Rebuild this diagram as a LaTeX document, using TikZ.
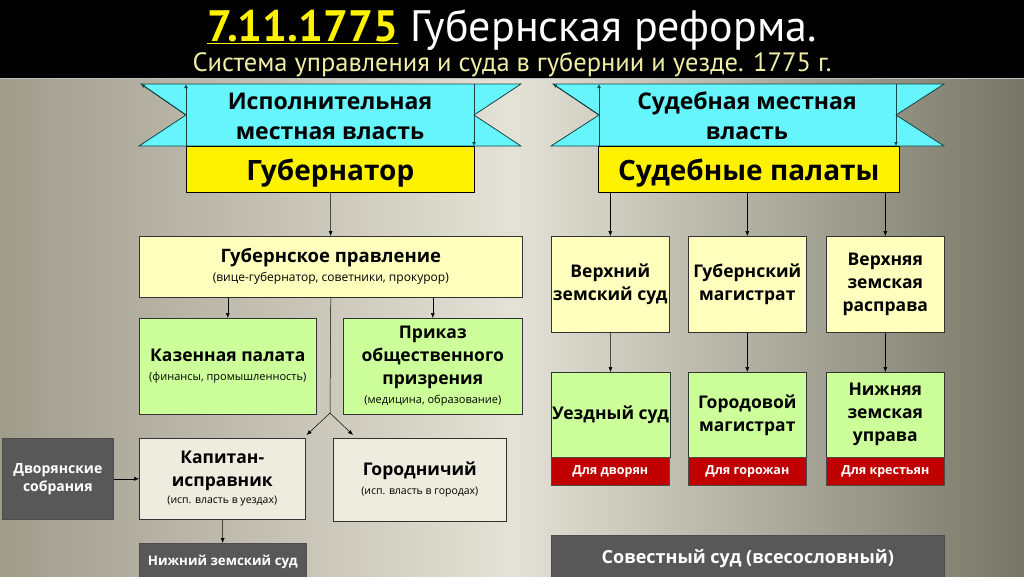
\documentclass[tikz,border=0pt]{standalone}
\usepackage{fontspec}
\setmainfont{Open Sans}
\newfontfamily\titlefont{PT Sans}
\usetikzlibrary{arrows.meta,calc}
\definecolor{lyel}{RGB}{255,255,190}
\definecolor{lgrn}{RGB}{204,255,153}
\definecolor{tan}{RGB}{238,236,222}
\definecolor{dgray}{RGB}{88,88,88}
\definecolor{dred}{RGB}{192,0,0}
\definecolor{rcyan}{RGB}{102,245,252}
\definecolor{rline}{RGB}{20,70,70}
\definecolor{subyel}{RGB}{240,238,165}
\definecolor{bgl}{RGB}{160,156,140}
\definecolor{bgm}{RGB}{228,226,214}
\definecolor{bgr}{RGB}{118,118,102}
\tikzset{
  box/.style={draw=black!80, line width=0.6pt, inner sep=1pt, align=center, anchor=north west, text=black},
  ybox/.style={box, fill=lyel},
  gbox/.style={box, fill=lgrn},
  tbox/.style={box, fill=tan},
  dbox/.style={box, fill=dgray, text=white, draw=black!70},
  rbox/.style={box, fill=dred, text=white, draw=black!70, font=\fontsize{12.5}{14}\selectfont\bfseries},
  big/.style={font=\fontsize{17.5}{23}\selectfont\bfseries},
  arr/.style={-{Latex[length=5pt,width=4pt]}, line width=0.5pt, black},
  rib/.style={fill=rcyan, draw=rline, line width=0.8pt},
  ribarr/.style={draw=rline, line width=0.8pt, -{Latex[length=4pt,width=4pt]}},
  ribtext/.style={align=center, font=\fontsize{23}{30}\selectfont\bfseries, text=black},
  headbox/.style={box, fill=yellow, draw=black, font=\fontsize{28}{32}\selectfont\bfseries}
}
\newcommand{\subt}[2][11]{{\fontsize{#1}{14}\selectfont\mdseries #2}}
\newcommand{\lowr}[1]{\raisebox{-4pt}[\height][\depth]{#1}}
\begin{document}
\begin{tikzpicture}[x=1pt,y=-1pt]
\useasboundingbox (0,0) rectangle (1024,576);
% background
\shade[left color=bgl, right color=bgr, middle color=bgm] (0,78) rectangle (1024,576);
\fill[black] (0,0) rectangle (1024,78);
\draw[white!75!black, line width=1pt] (0,78.5) -- (1024,78.5);
% header
\node[font=\titlefont\fontsize{44}{48}\selectfont, text=white] (title) at (512,30)
  {{\color{yellow}\bfseries\underline{7.11.1775}} Губернская реформа.};
\node[font=\titlefont\fontsize{26.5}{30}\selectfont, text=subyel] (subtitle) at (512,65)
  {Система управления и суда в губернии и уезде. 1775 г.};
% left ribbon
\path[rib] (141,84) -- (521,84) -- (474,115) -- (521,146) -- (139,146) -- (186,115) -- cycle;
\draw[ribarr] (186,146) -- (186,84);
\draw[ribarr] (474,84) -- (474,146);
\draw[ribarr] (186,115) -- (141,84);
\node[ribtext] (exec) at (330,116) {Исполнительная\\местная власть};
% right ribbon
\path[rib] (553,84) -- (944,84) -- (896,115) -- (944,146) -- (551,146) -- (599,115) -- cycle;
\draw[ribarr] (599,146) -- (599,84);
\draw[ribarr] (896,84) -- (896,146);
\draw[ribarr] (599,115) -- (553,84);
\node[ribtext] (jud) at (747,116) {Судебная местная\\власть};
% head boxes
\node[headbox, minimum width=288pt, minimum height=46pt] (gub) at (186,146) {\lowr{Губернатор}};
\node[headbox, minimum width=301pt, minimum height=46pt] (sp) at (598,146) {\lowr{Судебные палаты}};
% left side
\node[ybox, font=\fontsize{18.5}{23}\selectfont\bfseries, minimum width=383pt, minimum height=61pt] (gp) at (139,236)
  {Губернское правление\\[-4pt]\subt[12]{(вице-губернатор, советники, прокурор)}};
\node[gbox, big, minimum width=177pt, minimum height=96pt] (kaz) at (139,318)
  {Казенная палата\\[-4pt]\subt[11]{(финансы, промышленность)}};
\node[gbox, big, minimum width=179pt, minimum height=96pt] (prik) at (343,318)
  {Приказ\\общественного\\призрения\\[-4pt]\subt[11]{(медицина, образование)}};
\node[dbox, font=\fontsize{14}{18}\selectfont\bfseries, minimum width=111pt, minimum height=81pt] (dvor) at (2,438)
  {Дворянские\\собрания};
\node[tbox, big, minimum width=166pt, minimum height=81pt] (kap) at (139,438)
  {Капитан-\\исправник\\[-6pt]\subt[10.5]{(исп. власть в уездах)}};
\node[tbox, big, minimum width=173pt, minimum height=83pt] (gor) at (333,438)
  {Городничий\\[-4pt]\subt[10.5]{(исп. власть в городах)}};
\node[dbox, font=\fontsize{13.3}{18}\selectfont\bfseries, minimum width=167pt, minimum height=37pt] (nzs) at (139,543)
  {Нижний земский суд};
% left connectors
\draw[arr] (gub) -- (gp);
\draw[arr] (gp.south -| kaz.north) -- (kaz.north);
\draw[arr] (gp.south -| prik.north) -- (prik.north);
\coordinate (j) at (330,413);
\draw[line width=0.5pt] (gp.south) -- (j);
\draw[arr] (j) -- ([xshift=1pt,yshift=3pt]kap.north east);
\draw[arr] (j) -- ([xshift=20pt,yshift=3pt]gor.north west);
\draw[arr] (dvor) -- (kap);
\draw[arr] (kap) -- (nzs);
% right side
\node[ybox, big, minimum width=118pt, minimum height=96pt] (vz) at (551,236) {Верхний\\земский суд};
\node[ybox, big, minimum width=118pt, minimum height=96pt] (gm) at (688,236) {Губернский\\магистрат};
\node[ybox, big, minimum width=118pt, minimum height=96pt] (vr) at (826,236) {Верхняя\\земская\\расправа};
\node[gbox, big, minimum width=118pt, minimum height=85pt] (uz) at (551,372) {Уездный суд};
\node[gbox, big, minimum width=118pt, minimum height=85pt] (gom) at (688,372) {Городовой\\магистрат};
\node[gbox, big, minimum width=118pt, minimum height=85pt] (nzu) at (826,372) {Нижняя\\земская\\управа};
\node[rbox, minimum width=118pt, minimum height=28pt] (r1) at (551,457) {Для дворян};
\node[rbox, minimum width=118pt, minimum height=28pt] (r2) at (688,457) {Для горожан};
\node[rbox, minimum width=118pt, minimum height=28pt] (r3) at (826,457) {Для крестьян};
\node[dbox, font=\fontsize{18}{23}\selectfont\bfseries, minimum width=393pt, minimum height=46pt] (sov) at (551,535) {Совестный суд (всесословный)};
% right connectors
\draw[arr] (sp.south -| vz.north) -- (vz.north);
\draw[arr] (sp.south -| gm.north) -- (gm.north);
\draw[arr] (sp.south -| vr.north) -- (vr.north);
\draw[arr] (vz) -- (uz);
\draw[arr] (gm) -- (gom);
\draw[arr] (vr) -- (nzu);
\end{tikzpicture}
\end{document}
